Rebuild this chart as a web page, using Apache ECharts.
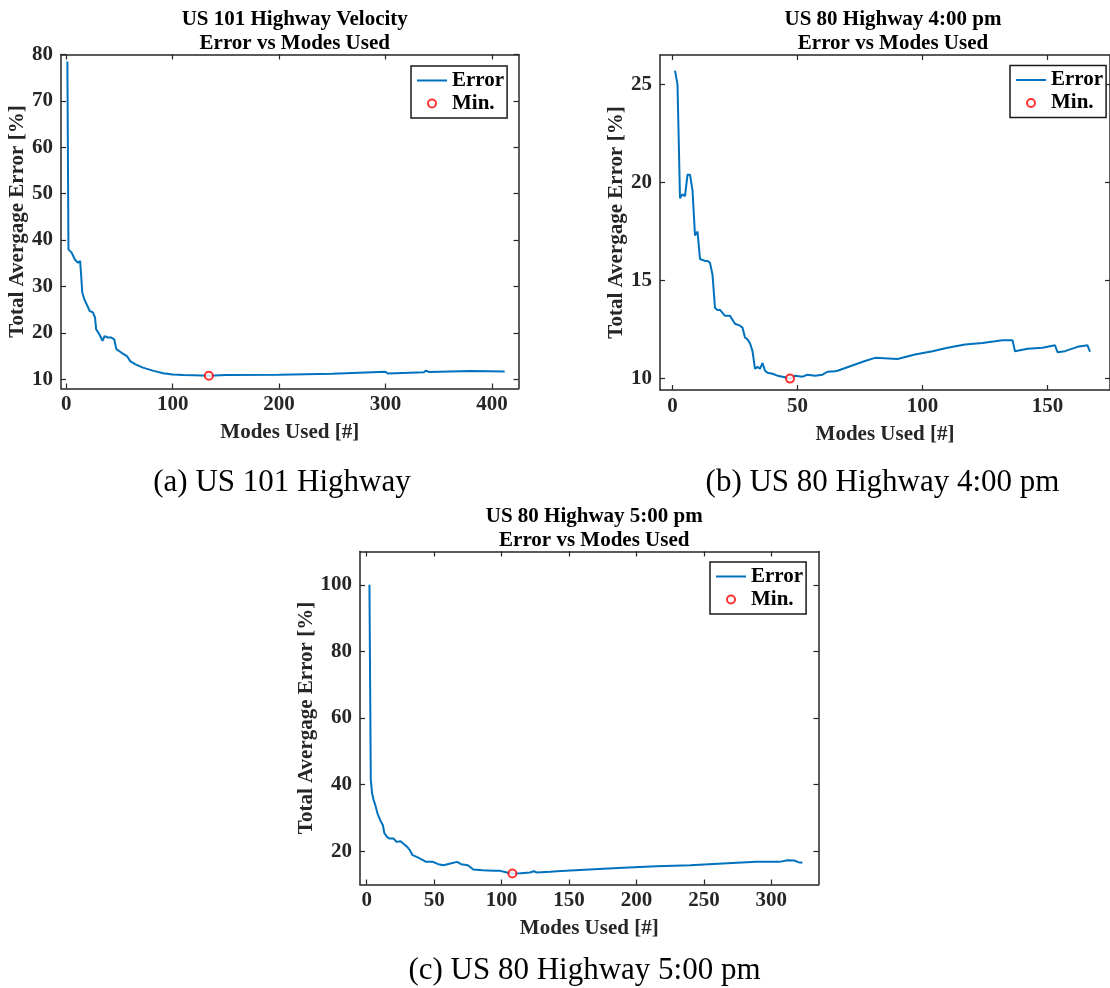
<!DOCTYPE html>
<html><head><meta charset="utf-8">
<script src="https://cdn.jsdelivr.net/npm/echarts@6/dist/echarts.min.js"></script>
<style>html,body{margin:0;padding:0;background:#fff}#c{width:1110px;height:988px}</style>
</head><body><div id="c"></div>
<script>
// ---------- Data ----------
// (a) US 101 Highway Velocity
const modesA = [1, 2, 3, 5, 8, 11, 13, 15, 17, 22, 25, 27, 28, 31, 34, 36, 39, 42, 45, 47, 52, 57, 60, 65, 72, 82, 91, 100, 110, 120, 134, 150, 200, 250, 300, 302, 336, 338, 341, 380, 412];
const errorA = [78.5, 38.0, 38.3, 37.3, 35.8, 35.1, 35.5, 28.7, 27.2, 24.7, 24.4, 23.3, 20.8, 19.7, 18.3, 19.3, 19.0, 19.0, 18.6, 16.5, 15.7, 15.0, 13.9, 13.2, 12.5, 11.8, 11.3, 11.0, 10.9, 10.85, 10.75, 10.9, 10.95, 11.2, 11.6, 11.25, 11.5, 11.85, 11.55, 11.75, 11.65];
const minModeA = 134, minErrA = 10.75;

// (b) US 80 Highway 4:00 pm
const modesB = [1, 2, 3, 4, 5, 6, 7, 8, 9, 10, 11, 13, 14, 15, 16, 17, 18, 19, 21, 23, 25, 27, 28, 29, 30, 31, 32, 33, 34, 35, 36, 37, 38, 40, 42, 45, 47, 49, 52, 54, 57, 60, 62, 65, 66, 77, 81, 90, 97, 104, 110, 117, 124, 129, 132, 136, 137, 142, 148, 153, 154, 157, 162, 166, 167];
const errorB = [25.7, 25.0, 19.2, 19.4, 19.3, 20.4, 20.4, 19.6, 17.3, 17.5, 16.1, 16.0, 16.0, 15.9, 15.3, 13.6, 13.5, 13.5, 13.2, 13.2, 12.8, 12.7, 12.6, 12.1, 12.0, 11.8, 11.4, 10.5, 10.6, 10.5, 10.8, 10.4, 10.3, 10.25, 10.15, 10.07, 10.0, 10.15, 10.1, 10.2, 10.15, 10.2, 10.35, 10.37, 10.4, 10.9, 11.06, 11.0, 11.23, 11.4, 11.57, 11.74, 11.82, 11.9, 11.96, 11.96, 11.4, 11.52, 11.57, 11.7, 11.35, 11.4, 11.62, 11.7, 11.37];
const minModeB = 47, minErrB = 10.0;

// (c) US 80 Highway 5:00 pm
const modesC = [2, 3, 4, 5, 6, 8, 10, 12, 13, 15, 17, 20, 22, 25, 27, 30, 32, 34, 37, 41, 44, 49, 53, 57, 62, 67, 70, 75, 79, 86, 94, 99, 104, 108, 114, 121, 124, 126, 136, 141, 165, 190, 215, 240, 264, 289, 306, 312, 317, 320, 323];
const errorC = [100, 41.5, 37.3, 35.5, 34.3, 31.3, 29.3, 27.8, 25.5, 24.3, 23.8, 23.8, 22.8, 23.0, 22.3, 21.3, 20.3, 18.8, 18.3, 17.5, 16.8, 16.8, 16.1, 15.8, 16.3, 16.8, 16.1, 15.8, 14.5, 14.3, 14.1, 14.1, 13.6, 13.3, 13.35, 13.6, 14.0, 13.6, 13.8, 14.0, 14.5, 15.0, 15.5, 15.8, 16.3, 16.8, 16.8, 17.3, 17.2, 16.7, 16.5];
const minModeC = 108, minErrC = 13.3;

// Tick labels
const xTicksA = [0, 100, 200, 300, 400];
const yTicksA = [10, 20, 30, 40, 50, 60, 70, 80];
const xTicksB = [0, 50, 100, 150];
const yTicksB = [10, 15, 20, 25];
const xTicksC = [0, 50, 100, 150, 200, 250, 300];
const yTicksC = [20, 40, 60, 80, 100];

const titlesTop = ['US 101 Highway Velocity\nError vs Modes Used', 'US 80 Highway 4:00 pm\nError vs Modes Used', 'US 80 Highway 5:00 pm\nError vs Modes Used'];
const captions = ['(a) US 101 Highway', '(b) US 80 Highway 4:00 pm', '(c) US 80 Highway 5:00 pm'];
const xName = 'Modes Used [#]';
const yName = 'Total Avergage Error [%]';
const legendNames = ['Error', 'Min.'];

// ---------- Layout ----------
const FF = 'Liberation Serif';
const AX = '#262626';
const LINE = '#0072BD';
const panels = [
  {grid:{left:61, top:54.5, width:457.5, height:334}, xr:[-5,425], yr:[8,80], xt:xTicksA, yt:yTicksA, xs:modesA, ys:errorA, mx:minModeA, my:minErrA, yGap:30, leg:{left:411, top:66}, cx:277, cy:478},
  {grid:{left:660, top:55, width:456, height:335}, xr:[-5,175], yr:[9.42,26.5], xt:xTicksB, yt:yTicksB, xs:modesB, ys:errorB, mx:minModeB, my:minErrB, yGap:31, leg:{left:1010, top:65.5}, cx:877.5, cy:478},
  {grid:{left:360, top:551.5, width:458.5, height:333}, xr:[-5,335], yr:[10,110], xt:xTicksC, yt:yTicksC, xs:modesC, ys:errorC, mx:minModeC, my:minErrC, yGap:41, leg:{left:710, top:562}, cx:579.5, cy:966}
];

const lineAx = {show:true, onZero:false, lineStyle:{color:AX, width:1.5}};
const tickStyle = {color:AX, width:1.2};
const grids = [], xAxes = [], yAxes = [], series = [], legends = [], titles = [];

panels.forEach((p, i) => {
  grids.push(p.grid);
  const labelStyle = {fontFamily:FF, fontWeight:'bold', fontSize:21, color:AX};
  xAxes.push({type:'value', gridIndex:i, position:'bottom', min:p.xr[0], max:p.xr[1],
    name:xName, nameLocation:'middle', nameGap:34, nameTextStyle:labelStyle,
    axisLine:lineAx, splitLine:{show:false},
    axisTick:{inside:true, length:5, lineStyle:tickStyle, customValues:p.xt},
    axisLabel:Object.assign({margin:6, customValues:p.xt}, labelStyle)});
  xAxes.push({type:'value', gridIndex:i, position:'top', min:p.xr[0], max:p.xr[1],
    axisLine:lineAx, splitLine:{show:false},
    axisTick:{inside:true, length:5, lineStyle:tickStyle, customValues:p.xt},
    axisLabel:{show:false}});
  yAxes.push({type:'value', gridIndex:i, position:'left', min:p.yr[0], max:p.yr[1],
    name:yName, nameLocation:'middle', nameGap:p.yGap, nameTextStyle:labelStyle,
    axisLine:lineAx, splitLine:{show:false},
    axisTick:{inside:true, length:5, lineStyle:tickStyle, customValues:p.yt},
    axisLabel:Object.assign({margin:8, customValues:p.yt}, labelStyle)});
  yAxes.push({type:'value', gridIndex:i, position:'right', min:p.yr[0], max:p.yr[1],
    axisLine:lineAx, splitLine:{show:false},
    axisTick:{inside:true, length:5, lineStyle:tickStyle, customValues:p.yt},
    axisLabel:{show:false}});
  series.push({type:'line', name:legendNames[0], xAxisIndex:2*i, yAxisIndex:2*i,
    data:p.xs.map((x,k)=>[x, p.ys[k]]), showSymbol:false, symbol:'none',
    lineStyle:{color:LINE, width:2}, itemStyle:{color:LINE}, clip:true, z:3});
  series.push({type:'scatter', name:legendNames[1], xAxisIndex:2*i, yAxisIndex:2*i,
    data:[[p.mx, p.my]], symbol:'emptyCircle', symbolSize:8,
    itemStyle:{color:'#FF0000', borderColor:'#FF0000', borderWidth:2}, z:4});
  legends.push({orient:'vertical', left:p.leg.left, top:p.leg.top,
    data:[
      {name:legendNames[0], icon:'path://M0,0 L30,0 L30,2 L0,2 Z', itemStyle:{color:LINE, borderWidth:0}},
      {name:legendNames[1]}
    ],
    backgroundColor:'#fff', borderColor:'#1a1a1a', borderWidth:1.5, borderRadius:0,
    padding:[4,3,4,6], itemGap:2, itemWidth:30, itemHeight:8, selectedMode:false,
    textStyle:{fontFamily:FF, fontWeight:'bold', fontSize:21, color:'#000', lineHeight:21}});
  const g = p.grid;
  titles.push({text:titlesTop[i], left:g.left + g.width/2, top:g.top - 52, textAlign:'center',
    textStyle:{fontFamily:FF, fontWeight:'bold', fontSize:21, color:'#000', lineHeight:24}});
  titles.push({text:captions[i], left:p.cx, top:p.cy - 17, textAlign:'center',
    textStyle:{fontFamily:FF, fontWeight:'normal', fontSize:31, color:'#000', lineHeight:34}});
});

const chart = echarts.init(document.getElementById('c'), null, {renderer:'canvas'});
chart.setOption({
  animation:false, backgroundColor:'#fff',
  title:titles, grid:grids, xAxis:xAxes, yAxis:yAxes, legend:legends, series:series
});
</script></body></html>
